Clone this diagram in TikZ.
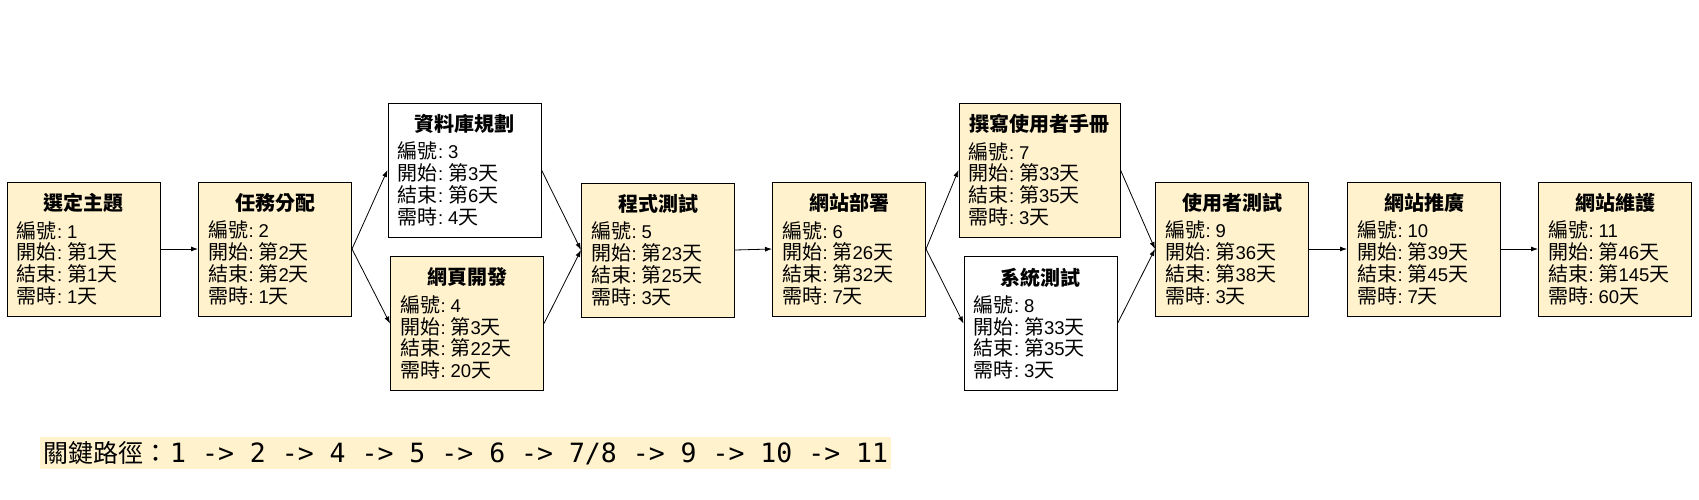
\documentclass[tikz,border=0pt]{standalone}
\usepackage{fontspec}
\setmainfont{Liberation Sans}
\newfontfamily\cjkf{Noto Sans CJK TC}
\newfontfamily\monof{DejaVu Sans Mono}
\usetikzlibrary{arrows.meta}
\definecolor{boxfill}{HTML}{FFF2CC}
\newcommand\cj[1]{{\fontsize{20}{21.7}\selectfont\cjkf #1}}
\newcommand\titlefont{\fontsize{20}{22}\selectfont\cjkf\bfseries}
\newcommand\cl{\hspace{0.5pt}:\hspace{5pt}}
\newcommand\tk[5]{%
 {\centering\titlefont #1\par}\vspace{5.7pt}%
 \cj{編號}\cl #2\\
 \cj{開始}\cl \cj{第}#3\cj{天}\\
 \cj{結束}\cl \cj{第}#4\cj{天}\\
 \cj{需時}\cl #5\cj{天}}
\tikzset{
 task/.style={draw=black, line width=1pt, fill=boxfill, minimum width=153pt,
   minimum height=134pt, inner xsep=9.5pt, inner ysep=0pt, text width=134pt,
   align=left, font=\fontsize{18.5}{21.7}\selectfont, anchor=center},
 whitebox/.style={fill=white},
 widebox/.style={minimum width=161pt, text width=142pt},
 conn/.style={-{Latex[length=7pt,width=5pt]}, line width=0.8pt},
 cpath/.style={fill=boxfill, inner xsep=3pt, inner ysep=0pt, minimum height=32pt, anchor=west},
}
\begin{document}
\begin{tikzpicture}[x=1pt,y=-1pt]
\useasboundingbox (0,0) rectangle (1699,499);
\node[task] (t1) at (83.5,249) {\tk{選定主題}{1}{1}{1}{1}};
\node[task] (t2) at (275,249) {\tk{任務分配}{2}{2}{2}{1}};
\node[task,whitebox] (t3) at (464.5,170) {\tk{資料庫規劃}{3}{3}{6}{4}};
\node[task] (t4) at (467,323.5) {\tk{網頁開發}{4}{3}{22}{20}};
\node[task] (t5) at (658,250) {\tk{程式測試}{5}{23}{25}{3}};
\node[task] (t6) at (849,249) {\tk{網站部署}{6}{26}{32}{7}};
\node[task,widebox] (t7) at (1039.5,170) {\tk{撰寫使用者手冊}{7}{33}{35}{3}};
\node[task,whitebox] (t8) at (1040.5,323.5) {\tk{系統測試}{8}{33}{35}{3}};
\node[task] (t9) at (1232,249) {\tk{使用者測試}{9}{36}{38}{3}};
\node[task] (t10) at (1424,249) {\tk{網站推廣}{10}{39}{45}{7}};
\node[task] (t11) at (1615,249) {\tk{網站維護}{11}{46}{145}{60}};
\draw[conn] (t1.east) -- (t2.west);
\draw[conn] (t2.east) -- (t3.west);
\draw[conn] (t2.east) -- (t4.west);
\draw[conn] (t3.east) -- (t5.west);
\draw[conn] (t4.east) -- (t5.west);
\draw[conn] (t5.east) -- (t6.west);
\draw[conn] (t6.east) -- (t7.west);
\draw[conn] (t6.east) -- (t8.west);
\draw[conn] (t7.east) -- (t9.west);
\draw[conn] (t8.east) -- (t9.west);
\draw[conn] (t9.east) -- (t10.west);
\draw[conn] (t10.east) -- (t11.west);
\node[cpath] (cp) at (40,453) {{\fontsize{25}{30}\selectfont\cjkf 關鍵路徑：}\hspace{2pt}{\fontsize{26.5}{30}\selectfont\monof 1 -> 2 -> 4 -> 5 -> 6 -> 7/8 -> 9 -> 10 -> 11}};
\end{tikzpicture}
\end{document}
